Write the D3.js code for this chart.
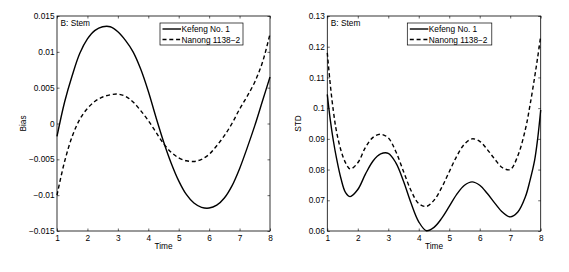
<!DOCTYPE html>
<html>
<head>
<meta charset="utf-8">
<script src="https://cdn.jsdelivr.net/npm/d3@7"></script>
<style>
  body { margin: 0; background: #ffffff; }
  text { font-family: "Liberation Sans", Arial, sans-serif; }
</style>
</head>
<body>
<div id="chartParent"></div>
<script>
// ---- data ----
const seriesNames = ["Kefeng No. 1", "Nanong 1138\u22122"];
const panelTag = "B: Stem";

const timeTicks = [1, 2, 3, 4, 5, 6, 7, 8];

// left panel: Bias
const biasTime = [1, 1.25, 1.5, 1.75, 2, 2.25, 2.5, 2.75, 3, 3.25, 3.5, 3.75, 4, 4.25, 4.5,
                  4.75, 5, 5.25, 5.5, 5.75, 6, 6.25, 6.5, 6.75, 7, 7.25, 7.5, 7.75, 8];
const biasKefeng = [-0.0018, 0.0030, 0.0067, 0.0098, 0.0118, 0.0130, 0.0135, 0.0135, 0.0128, 0.0116,
                    0.0100, 0.0076, 0.0045, 0.0009, -0.0025, -0.0055, -0.0080, -0.0099, -0.0111, -0.0117,
                    -0.0118, -0.0114, -0.0104, -0.0087, -0.0063, -0.0034, -0.0003, 0.0031, 0.0065];
const biasNanong = [-0.0100, -0.0053, -0.0018, 0.0006, 0.0021, 0.0031, 0.0037, 0.0040, 0.0041, 0.0038,
                    0.0030, 0.0018, 0.0004, -0.0012, -0.0028, -0.0040, -0.0048, -0.0052, -0.0053, -0.0050,
                    -0.0043, -0.0031, -0.0017, 0.0000, 0.0020, 0.0038, 0.0058, 0.0085, 0.0125];
const biasTicks = [-0.015, -0.01, -0.005, 0, 0.005, 0.01, 0.015];

// right panel: STD
const stdTime = [1, 1.1, 1.2, 1.3, 1.45, 1.6, 1.75, 2, 2.25, 2.5, 2.75, 3, 3.25, 3.5, 3.75, 4, 4.25,
                 4.5, 4.75, 5, 5.25, 5.5, 5.75, 6, 6.25, 6.5, 6.75, 7, 7.25, 7.5, 7.65, 7.8, 7.9, 8];
const stdKefeng = [0.1045, 0.0960, 0.0893, 0.0838, 0.0770, 0.0725, 0.0712, 0.0735, 0.0785, 0.0828,
                   0.0851, 0.0853, 0.0822, 0.0762, 0.0690, 0.0630, 0.0601, 0.0612, 0.0641, 0.0680,
                   0.0720, 0.0749, 0.0760, 0.0749, 0.0722, 0.0690, 0.0661, 0.0646, 0.0662, 0.0712,
                   0.0765, 0.0830, 0.0900, 0.0994];
const stdNanong = [0.1180, 0.1075, 0.0990, 0.0925, 0.0862, 0.0822, 0.0802, 0.0822, 0.0872, 0.0905,
                   0.0915, 0.0903, 0.0858, 0.0794, 0.0731, 0.0689, 0.0680, 0.0700, 0.0741, 0.0793,
                   0.0844, 0.0883, 0.0900, 0.0892, 0.0865, 0.0833, 0.0806, 0.0800, 0.0845, 0.0932,
                   0.1010, 0.1100, 0.1165, 0.1235];
const stdTicks = [0.06, 0.07, 0.08, 0.09, 0.1, 0.11, 0.12, 0.13];

const W = 569, H = 272;
const fontSize = 8.3;
const ink = "#000000";

const svg = d3.select("#chartParent")
  .append("svg")
  .attr("width", W)
  .attr("height", H);

svg.append("rect")
  .attr("width", W).attr("height", H)
  .style("fill", "#ffffff");

function drawPanel(p) {
  const g = svg.append("g")
    .attr("transform", `translate(${p.left}, ${p.top})`);

  const x = d3.scaleLinear().domain([1, 8]).range([0, p.width]);
  const y = d3.scaleLinear().domain(p.yDomain).range([p.height, 0]);
  const fmt = d3.format("~g");

  // MATLAB style: ticks inside on all four sides
  const left = g.append("g")
    .call(d3.axisLeft(y).tickValues(p.yTicks).tickFormat(fmt).tickSizeInner(-2.5).tickSizeOuter(0).tickPadding(2.5));
  const right = g.append("g")
    .attr("transform", `translate(${p.width}, 0)`)
    .call(d3.axisRight(y).tickValues(p.yTicks).tickFormat("").tickSizeInner(-2.5).tickSizeOuter(0));
  const bottom = g.append("g")
    .attr("transform", `translate(0, ${p.height})`)
    .call(d3.axisBottom(x).tickValues(timeTicks).tickFormat(fmt).tickSizeInner(-2.5).tickSizeOuter(0).tickPadding(4.5));
  const top = g.append("g")
    .call(d3.axisTop(x).tickValues(timeTicks).tickFormat("").tickSizeInner(-2.5).tickSizeOuter(0));

  [left, right, bottom, top].forEach(a => {
    a.select(".domain").remove();
    a.selectAll(".tick line").attr("stroke", ink).attr("stroke-width", 0.6);
    a.selectAll(".tick text")
      .attr("fill", ink)
      .style("font-family", "'Liberation Sans', Arial, sans-serif")
      .style("font-size", fontSize + "px");
  });

  // box round the axes
  g.append("rect")
    .attr("x", 0).attr("y", 0)
    .attr("width", p.width).attr("height", p.height)
    .style("fill", "none")
    .style("stroke", ink)
    .style("stroke-width", 0.8);

  // curves
  const line = d3.line()
    .x(d => x(d[0]))
    .y(d => y(d[1]))
    .curve(d3.curveCatmullRom.alpha(0.5));

  g.append("path")
    .datum(d3.zip(p.time, p.kefeng))
    .attr("d", line)
    .style("fill", "none")
    .style("stroke", ink)
    .style("stroke-width", 1.4);

  g.append("path")
    .datum(d3.zip(p.time, p.nanong))
    .attr("d", line)
    .style("fill", "none")
    .style("stroke", ink)
    .style("stroke-width", 1.4)
    .style("stroke-dasharray", "4,2.8");

  // axis labels
  g.append("text")
    .attr("text-anchor", "middle")
    .attr("x", p.width / 2)
    .attr("y", p.height + 17.5)
    .style("font-size", fontSize + "px")
    .text("Time");

  g.append("text")
    .attr("text-anchor", "middle")
    .attr("transform", `translate(${p.yLabelX}, ${p.height / 2}) rotate(-90)`)
    .style("font-size", fontSize + "px")
    .text(p.yLabel);

  // panel tag
  g.append("text")
    .attr("x", 3.5)
    .attr("y", 10)
    .style("font-size", fontSize + "px")
    .text(panelTag);

  // legend
  const lg = g.append("g")
    .attr("transform", `translate(${p.legendX}, 7)`);
  lg.append("rect")
    .attr("x", 0).attr("y", 0)
    .attr("width", p.legendW).attr("height", 22)
    .style("fill", "#ffffff")
    .style("stroke", ink)
    .style("stroke-width", 0.7);
  seriesNames.forEach((name, i) => {
    const yy = 6 + i * 10.5;
    lg.append("line")
      .attr("x1", 2.5).attr("x2", 21)
      .attr("y1", yy).attr("y2", yy)
      .style("stroke", ink)
      .style("stroke-width", 1.4)
      .style("stroke-dasharray", i === 0 ? null : "4,2.8");
    lg.append("text")
      .attr("x", 21.5)
      .attr("y", yy + 3)
      .style("font-size", fontSize + "px")
      .text(name);
  });
}

drawPanel({
  left: 57, top: 16, width: 213, height: 215,
  yDomain: [-0.015, 0.015], yTicks: biasTicks,
  time: biasTime, kefeng: biasKefeng, nanong: biasNanong,
  yLabel: "Bias", yLabelX: -31,
  legendX: 103, legendW: 83
});

drawPanel({
  left: 327.3, top: 16, width: 213.4, height: 215,
  yDomain: [0.06, 0.13], yTicks: stdTicks,
  time: stdTime, kefeng: stdKefeng, nanong: stdNanong,
  yLabel: "STD", yLabelX: -26,
  legendX: 80, legendW: 84.5
});
</script>
</body>
</html>
